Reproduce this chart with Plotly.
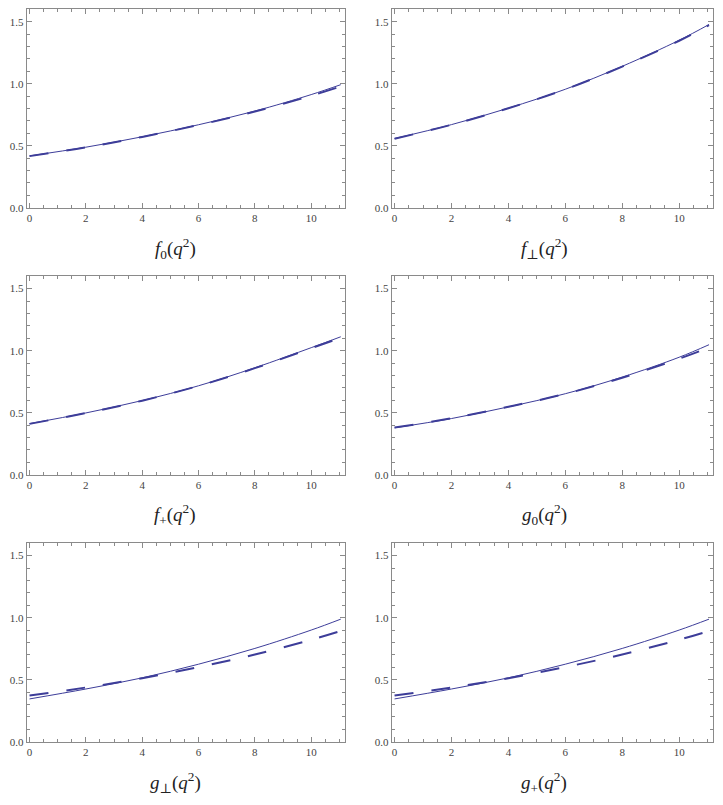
import plotly.graph_objects as go

# q^2 sample points (GeV^2)
q2 = [0, 2, 4, 6, 8, 10, 11.05]

f0_solid = [0.418, 0.488, 0.572, 0.669, 0.779, 0.912, 0.992]
f0_dash = [0.416, 0.486, 0.571, 0.667, 0.775, 0.903, 0.978]

fperp_solid = [0.558, 0.670, 0.803, 0.955, 1.140, 1.350, 1.477]
fperp_dash = [0.556, 0.669, 0.802, 0.954, 1.138, 1.346, 1.472]

fplus_solid = [0.412, 0.498, 0.598, 0.717, 0.862, 1.024, 1.112]
fplus_dash = [0.410, 0.497, 0.597, 0.716, 0.859, 1.020, 1.104]

g0_solid = [0.378, 0.453, 0.547, 0.653, 0.787, 0.947, 1.048]
g0_dash = [0.380, 0.455, 0.548, 0.652, 0.782, 0.935, 1.025]

gperp_solid = [0.345, 0.425, 0.515, 0.625, 0.752, 0.900, 0.988]
gperp_dash = [0.372, 0.437, 0.512, 0.602, 0.703, 0.822, 0.893]

gplus_solid = [0.345, 0.425, 0.515, 0.625, 0.752, 0.900, 0.988]
gplus_dash = [0.372, 0.437, 0.512, 0.602, 0.703, 0.822, 0.893]

titles = [
    "<i>f</i><sub>0</sub>(<i>q</i><sup>2</sup>)",
    "<i>f</i><sub>\u22a5</sub>(<i>q</i><sup>2</sup>)",
    "<i>f</i><sub>+</sub>(<i>q</i><sup>2</sup>)",
    "<i>g</i><sub>0</sub>(<i>q</i><sup>2</sup>)",
    "<i>g</i><sub>\u22a5</sub>(<i>q</i><sup>2</sup>)",
    "<i>g</i><sub>+</sub>(<i>q</i><sup>2</sup>)",
]
series = [
    (f0_solid, f0_dash),
    (fperp_solid, fperp_dash),
    (fplus_solid, fplus_dash),
    (g0_solid, g0_dash),
    (gperp_solid, gperp_dash),
    (gplus_solid, gplus_dash),
]

W, H = 723, 805
col_px = [(26.7, 345.0), (391.7, 713.3)]
row_px = [(9.3, 209.3), (278.3, 478.3), (547.3, 747.3)]
title_x_px = [175, 544]
title_y_px = [250, 518.5, 788.5]

SERIF = "Liberation Serif, Times New Roman, DejaVu Serif, serif"
color = "#3d3d99"
frame = "#8a8a8a"
tickfont = dict(family=SERIF, size=11, color="#444444")

fig = go.Figure()
layout = dict(
    width=W, height=H, margin=dict(l=0, r=0, t=0, b=0),
    paper_bgcolor="white", plot_bgcolor="white", showlegend=False,
    font=dict(family=SERIF),
)
annotations = []
for i, (solid, dash) in enumerate(series):
    r, c = divmod(i, 2)
    n = i + 1
    xa = "x" if n == 1 else f"x{n}"
    ya = "y" if n == 1 else f"y{n}"
    fig.add_trace(go.Scatter(x=q2, y=solid, mode="lines", xaxis=xa, yaxis=ya,
                             line=dict(color=color, width=1, shape="spline")))
    fig.add_trace(go.Scatter(x=q2, y=dash, mode="lines", xaxis=xa, yaxis=ya,
                             line=dict(color=color, width=2, shape="spline", dash="19px,18px")))
    x0, x1 = col_px[c]
    y0, y1 = row_px[r]
    common = dict(showline=True, linecolor=frame, linewidth=1, mirror="allticks",
                  ticks="inside", tickcolor=frame, ticklen=5, tickwidth=1,
                  showgrid=False, zeroline=False, tickfont=tickfont, fixedrange=True)
    layout["xaxis" if n == 1 else f"xaxis{n}"] = dict(
        common, domain=[x0 / W, x1 / W], range=[-0.1, 11.2],
        tickvals=[0, 2, 4, 6, 8, 10], anchor=ya,
        minor=dict(dtick=0.5, tick0=0, ticks="inside", ticklen=3, tickcolor=frame, showgrid=False),
    )
    layout["yaxis" if n == 1 else f"yaxis{n}"] = dict(
        common, domain=[1 - y1 / H, 1 - y0 / H], range=[0, 1.6],
        tickvals=[0, 0.5, 1.0, 1.5], ticktext=["0.0", "0.5", "1.0", "1.5"], anchor=xa,
        minor=dict(dtick=0.1, tick0=0, ticks="inside", ticklen=3, tickcolor=frame, showgrid=False),
    )
    annotations.append(dict(
        text=titles[i], x=title_x_px[c] / W, y=1 - title_y_px[r] / H,
        xref="paper", yref="paper", showarrow=False, xanchor="center", yanchor="middle",
        font=dict(family=SERIF, size=19, color="#222222"),
    ))
layout["annotations"] = annotations
fig.update_layout(**layout)
fig.write_html("out.html")
